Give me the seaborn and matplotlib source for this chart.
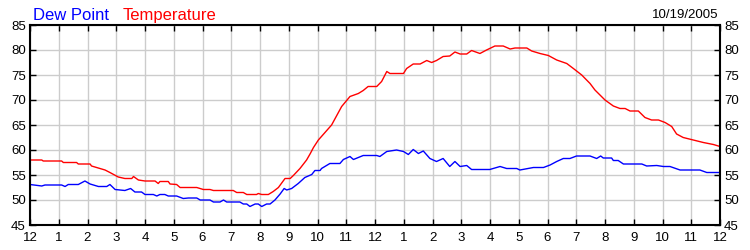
import matplotlib
matplotlib.use("Agg")
import matplotlib.pyplot as plt
import seaborn as sns
import pandas as pd

# ---- data ----
temp_hours = [0.0, 0.41, 0.46, 1.1, 1.16, 1.62, 1.68, 2.09, 2.14, 2.61, 2.78, 3.07, 3.3, 3.54,
              3.6, 3.77, 4.0, 4.35, 4.46, 4.52, 4.81, 4.87, 5.1, 5.22, 5.8, 6.03, 6.26, 6.38,
              7.07, 7.19, 7.42, 7.54, 7.88, 7.94, 8.06, 8.29, 8.46, 8.64, 8.87, 9.05, 9.16,
              9.39, 9.62, 9.75, 9.86, 10.03, 10.49, 10.84, 11.13, 11.42, 11.59, 11.76, 12.06,
              12.23, 12.41, 12.52, 12.87, 12.99, 13.1, 13.33, 13.57, 13.8, 13.97, 14.14, 14.37,
              14.6, 14.78, 14.96, 15.19, 15.36, 15.65, 15.88, 16.17, 16.46, 16.7, 16.87, 17.28,
              17.45, 17.74, 18.03, 18.32, 18.67, 18.9, 19.19, 19.36, 19.48, 19.65, 20.0, 20.29,
              20.52, 20.7, 20.87, 21.16, 21.39, 21.62, 21.86, 22.09, 22.32, 22.49, 22.72, 23.07,
              23.42, 23.77, 24.0]
temp_values = [58.0, 58.0, 57.8, 57.8, 57.5, 57.5, 57.2, 57.2, 56.8, 56.0, 55.5, 54.6, 54.3, 54.3,
               54.7, 54.0, 53.8, 53.8, 53.3, 53.7, 53.7, 53.2, 53.1, 52.5, 52.5, 52.1, 52.1, 51.9,
               51.9, 51.5, 51.5, 51.1, 51.1, 51.3, 51.1, 51.1, 51.7, 52.5, 54.3, 54.3, 54.9,
               56.3, 58.0, 59.3, 60.5, 62.0, 65.0, 68.7, 70.7, 71.3, 71.9, 72.7, 72.7,
               73.7, 75.7, 75.3, 75.3, 75.3, 76.3, 77.2, 77.2, 77.9, 77.5, 77.9, 78.7,
               78.8, 79.6, 79.2, 79.2, 79.9, 79.3, 80.0, 80.8, 80.8, 80.2, 80.4, 80.4,
               79.8, 79.3, 78.9, 78.0, 77.3, 76.3, 75.0, 74.0, 73.3, 72.0, 70.0, 68.8,
               68.3, 68.3, 67.8, 67.8, 66.5, 66.0, 66.0, 65.5, 64.7, 63.2, 62.5, 62.0,
               61.5, 61.1, 60.7]

dew_hours = [0.0, 0.41, 0.52, 1.1, 1.22, 1.33, 1.68, 1.91, 2.09, 2.38, 2.67, 2.78, 2.96, 3.3,
             3.5, 3.65, 3.88, 4.0, 4.29, 4.41, 4.52, 4.69, 4.81, 5.1, 5.33, 5.51, 5.8, 5.92,
             6.26, 6.38, 6.61, 6.73, 6.84, 7.3, 7.42, 7.54, 7.65, 7.83, 7.94, 8.06, 8.23, 8.35,
             8.52, 8.7, 8.84, 8.93, 9.1, 9.33, 9.56, 9.8, 9.91, 10.09, 10.14, 10.43, 10.78,
             10.9, 11.13, 11.25, 11.59, 12.06, 12.17, 12.41, 12.75, 12.99, 13.16, 13.33, 13.51,
             13.68, 13.91, 14.14, 14.37, 14.6, 14.78, 14.96, 15.19, 15.36, 15.99, 16.35, 16.58,
             16.93, 17.04, 17.51, 17.86, 18.09, 18.32, 18.55, 18.78, 19.01, 19.48, 19.71, 19.85,
             19.94, 20.23, 20.29, 20.46, 20.64, 21.28, 21.45, 21.8, 22.03, 22.26, 22.61, 22.84,
             23.07, 23.3, 23.54, 23.77, 24.0]
dew_values = [53.1, 52.8, 53.0, 53.0, 52.7, 53.1, 53.1, 53.8, 53.2, 52.7, 52.7, 53.1, 52.1, 51.9,
              52.3, 51.6, 51.6, 51.1, 51.1, 50.8, 51.1, 51.1, 50.8, 50.8, 50.3, 50.4, 50.4, 50.0,
              50.0, 49.6, 49.6, 50.0, 49.6, 49.6, 49.2, 49.2, 48.7, 49.2, 49.2, 48.7, 49.2, 49.2,
              50.0, 51.2, 52.3, 52.0, 52.3, 53.3, 54.5, 55.1, 55.9, 55.9, 56.3, 57.3, 57.3,
              58.1, 58.7, 58.1, 58.9, 58.9, 58.7, 59.7, 60.0, 59.7, 59.1, 60.1, 59.3,
              59.8, 58.3, 57.7, 58.3, 56.7, 57.7, 56.7, 56.9, 56.1, 56.1, 56.7, 56.3,
              56.3, 56.0, 56.5, 56.5, 57.0, 57.7, 58.3, 58.3, 58.8, 58.8, 58.3, 58.8,
              58.4, 58.4, 57.9, 57.9, 57.2, 57.2, 56.8, 56.9, 56.7, 56.7, 56.0, 56.0,
              56.0, 56.0, 55.5, 55.5, 55.5]

x_tick_labels = ["12", "1", "2", "3", "4", "5", "6", "7", "8", "9", "10", "11",
                 "12", "1", "2", "3", "4", "5", "6", "7", "8", "9", "10", "11", "12"]
y_ticks = [45, 50, 55, 60, 65, 70, 75, 80, 85]
title_dew = "Dew Point"
title_temp = "Temperature"
date_text = "10/19/2005"

# ---- plotting ----
sns.set_theme(style="white")
plt.rcParams["font.family"] = ["Liberation Sans", "DejaVu Sans"]

fig = plt.figure(figsize=(7.5, 2.5), dpi=100)
ax = fig.add_axes([30 / 750, 25 / 250, 690 / 750, 200 / 250])

temp_df = pd.DataFrame({"hour": temp_hours, "value": temp_values})
dew_df = pd.DataFrame({"hour": dew_hours, "value": dew_values})

sns.lineplot(data=temp_df, x="hour", y="value", color="#ff0000", linewidth=1.0, ax=ax)
sns.lineplot(data=dew_df, x="hour", y="value", color="#0000ff", linewidth=1.0, ax=ax)

ax.set_xlim(0, 24)
ax.set_ylim(45, 85)
ax.set_xticks(range(len(x_tick_labels)))
ax.set_xticklabels(x_tick_labels)
ax.set_yticks(y_ticks)
ax.set_yticklabels([str(v) for v in y_ticks])
ax.set_xlabel("")
ax.set_ylabel("")

ax.grid(True, color="#cccccc", linewidth=1.0)
ax.set_axisbelow(True)
for s in ax.spines.values():
    s.set_color("black")
    s.set_linewidth(1.5)
    s.set_visible(True)

ax.tick_params(axis="both", which="both", direction="in", length=4, width=1,
               color="black", labelsize=9.5, labelcolor="black",
               top=True, right=True, left=True, bottom=True,
               labelright=True, labelleft=True, pad=3)
ax.tick_params(axis="x", pad=5)

fig.text(33 / 750, 1 - 20 / 250, title_dew, color="#0000ff", fontsize=12, ha="left", va="baseline")
fig.text(123 / 750, 1 - 20 / 250, title_temp, color="#ff0000", fontsize=12, ha="left", va="baseline")
fig.text(718 / 750, 1 - 18 / 250, date_text, color="black", fontsize=9.5, ha="right", va="baseline")

fig.savefig("out.png", dpi=100, facecolor="white")
